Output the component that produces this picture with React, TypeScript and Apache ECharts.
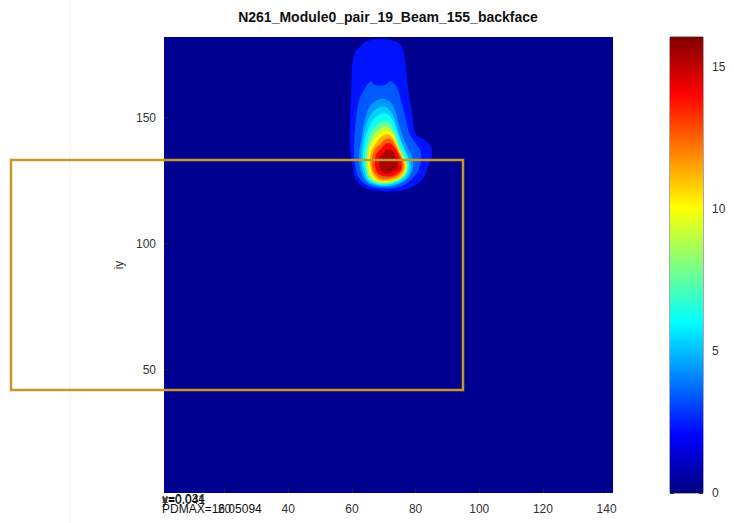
import { useEffect, useRef } from 'react';
import * as echarts from 'echarts';

// ---- chart content ----
const TITLE = 'N261_Module0_pair_19_Beam_155_backface';
const Y_NAME = 'iy';
const X_RANGE = [1, 142];
const Y_RANGE = [1, 182];
const X_STEP = 20;
const Y_STEP = 50;
const PDMAX = 16.05094;
const COLORBAR_STEP = 5;
const NOTE_X = 'x=0.034';
const NOTE_Y = 'y=0.041';
const NOTE_MAX = 'PDMAX=16.05094';

// filled contour bands, outermost first: level of each band
const BAND_LEVELS = [2.3, 3.4, 4.4, 5.3, 6.2, 7.6, 9.0, 10.1, 11.3, 12.6, 14.0, 15.4];

// outline of each band in (ix, iy) coordinates
const BAND_OUTLINES: number[][][] = [
  [[62.6, 178.2], [64.5, 180.2], [67.0, 181.0], [70.1, 181.0], [72.6, 180.6], [74.8, 179.4], [76.0, 177.0], [76.7, 173.0], [77.3, 165.1], [78.2, 157.1], [79.2, 149.2], [80.1, 143.3], [82.6, 141.3], [84.8, 138.5], [85.1, 134.5], [83.9, 130.6], [82.6, 126.2], [79.8, 123.0], [75.1, 121.0], [68.8, 121.0], [64.1, 122.2], [61.3, 125.4], [60.1, 131.3], [59.4, 139.3], [59.4, 149.2], [59.8, 161.1], [60.1, 171.0], [61.0, 175.8]],
  [[63.8, 161.1], [65.1, 163.5], [66.0, 164.3], [67.0, 163.1], [68.8, 162.7], [70.7, 163.1], [72.0, 164.3], [73.2, 163.5], [74.5, 161.1], [75.7, 155.2], [77.0, 149.2], [78.2, 143.3], [80.1, 139.7], [81.7, 136.1], [81.4, 130.9], [79.5, 126.6], [76.0, 123.0], [70.4, 121.8], [65.1, 123.0], [62.2, 126.2], [61.0, 131.3], [60.7, 139.3], [61.3, 149.2], [62.3, 157.1]],
  [[65.7, 154.8], [67.6, 156.7], [69.8, 157.5], [72.0, 156.3], [73.5, 153.2], [74.8, 147.2], [76.4, 141.3], [77.9, 137.3], [79.2, 133.3], [78.9, 128.6], [76.7, 125.0], [73.5, 123.0], [68.8, 122.6], [64.8, 124.2], [62.9, 128.2], [62.2, 134.1], [62.9, 141.3], [64.1, 149.2]],
  [[66.0, 151.2], [67.9, 153.6], [70.1, 154.4], [72.0, 152.8], [73.5, 149.2], [74.8, 143.3], [76.4, 138.1], [78.2, 133.3], [78.5, 129.4], [76.7, 125.4], [73.2, 123.4], [68.8, 123.0], [65.1, 124.6], [63.5, 128.6], [62.9, 134.1], [63.5, 141.3], [64.5, 147.2]],
  [[66.3, 148.4], [68.2, 150.8], [70.4, 151.6], [72.3, 150.0], [73.8, 146.0], [75.1, 141.3], [76.7, 136.5], [77.9, 132.5], [77.6, 128.6], [75.7, 125.4], [72.6, 123.8], [68.8, 123.4], [65.4, 125.0], [64.1, 128.6], [63.5, 134.1], [64.1, 140.5], [65.1, 145.2]],
  [[67.0, 146.0], [68.8, 148.0], [70.7, 148.8], [72.3, 147.2], [73.8, 143.3], [75.1, 138.5], [76.7, 134.5], [77.6, 131.3], [77.0, 127.8], [75.1, 125.4], [72.0, 123.8], [68.5, 123.8], [65.7, 125.4], [64.5, 128.9], [64.1, 134.1], [64.8, 139.3], [65.7, 143.3]],
  [[67.3, 144.0], [69.2, 146.0], [71.0, 146.4], [72.6, 144.8], [73.8, 141.3], [75.1, 136.9], [76.4, 133.3], [77.3, 130.6], [76.4, 127.4], [74.5, 125.4], [71.6, 124.2], [68.5, 124.2], [66.0, 125.8], [64.8, 129.4], [64.8, 134.5], [65.4, 138.9], [66.3, 141.7]],
  [[67.9, 142.5], [69.5, 144.4], [71.3, 144.8], [72.9, 143.3], [74.1, 139.7], [75.4, 135.7], [76.7, 132.5], [77.0, 129.8], [76.0, 127.0], [74.1, 125.4], [71.6, 124.6], [68.5, 124.6], [66.3, 126.2], [65.4, 129.4], [65.1, 134.1], [65.7, 138.1], [66.6, 140.5]],
  [[68.2, 140.9], [69.8, 142.9], [71.6, 143.3], [73.2, 141.3], [74.5, 137.7], [75.7, 134.5], [76.7, 131.3], [76.4, 128.6], [74.8, 126.2], [72.0, 125.0], [68.8, 125.0], [66.9, 126.6], [66.0, 129.4], [65.7, 133.7], [66.3, 137.3], [67.3, 139.3]],
  [[68.8, 139.3], [70.4, 141.3], [72.0, 141.7], [73.5, 139.3], [74.8, 136.1], [76.0, 132.9], [76.0, 129.4], [74.5, 127.0], [72.0, 125.8], [69.2, 125.8], [67.3, 127.4], [66.3, 130.2], [66.3, 133.7], [67.0, 136.9], [67.9, 138.5]],
  [[69.2, 137.7], [70.7, 139.7], [72.3, 139.7], [73.8, 137.3], [75.1, 134.1], [75.7, 131.0], [75.1, 128.6], [73.2, 127.0], [70.4, 126.6], [68.2, 127.8], [67.3, 130.6], [67.3, 133.7], [67.9, 136.1]],
  [[69.8, 135.7], [71.0, 137.3], [72.6, 136.9], [73.8, 134.5], [74.5, 131.7], [74.1, 129.4], [72.6, 128.2], [70.4, 127.8], [68.8, 129.4], [68.5, 132.1], [68.8, 134.5]],
];

// jet colour map, evenly spaced anchors from 0 to 1
const JET = ['#000080', '#0000ff', '#0080ff', '#00ffff', '#80ff80', '#ffff00', '#ff8000', '#ff0000', '#800000'];

const FONT = '"Liberation Sans", Arial, Helvetica, sans-serif';
const TEXT = '#333333';

const PLOT = { left: 164, top: 37, width: 449, height: 456 };
const BAR = { left: 670, top: 37, width: 33, height: 456 };

function buildOption(): echarts.EChartsOption {
  const bandData = BAND_LEVELS.map((lv, i) => [i, lv]);
  return {
    animation: false,
    backgroundColor: '#ffffff',
    textStyle: { fontFamily: FONT },
    grid: [
      { ...PLOT, show: true, backgroundColor: '#000090', borderWidth: 0, containLabel: false },
      { ...BAR, show: true, borderColor: '#555555', borderWidth: 1, containLabel: false },
    ],
    visualMap: {
      type: 'continuous',
      show: false,
      seriesIndex: 0,
      dimension: 1,
      min: 0,
      max: PDMAX,
      inRange: { color: JET },
    },
    xAxis: [
      {
        type: 'value',
        gridIndex: 0,
        min: X_RANGE[0],
        max: X_RANGE[1],
        minInterval: X_STEP,
        maxInterval: X_STEP,
        axisLine: { show: false },
        axisTick: { show: true, inside: true, length: 4, lineStyle: { color: '#222' } },
        splitLine: { show: false },
        axisLabel: {
          color: TEXT,
          fontSize: 12,
          fontFamily: FONT,
          margin: 10,
          showMinLabel: false,
          showMaxLabel: false,
          formatter: (v: number) => (v % X_STEP === 0 ? String(v) : ''),
        },
      },
      { type: 'category', gridIndex: 1, data: ['c'], show: false },
    ],
    yAxis: [
      {
        type: 'value',
        gridIndex: 0,
        min: Y_RANGE[0],
        max: Y_RANGE[1],
        minInterval: Y_STEP,
        maxInterval: Y_STEP,
        name: Y_NAME,
        nameLocation: 'middle',
        nameRotate: 90,
        nameGap: 38,
        nameTextStyle: { color: TEXT, fontSize: 12, fontFamily: FONT },
        axisLine: { show: false },
        axisTick: { show: true, inside: true, length: 4, lineStyle: { color: '#222' } },
        splitLine: { show: false },
        axisLabel: {
          color: TEXT,
          fontSize: 12,
          fontFamily: FONT,
          margin: 8,
          showMinLabel: false,
          showMaxLabel: false,
          formatter: (v: number) => (v % Y_STEP === 0 ? String(v) : ''),
        },
      },
      {
        type: 'value',
        gridIndex: 1,
        position: 'right',
        min: 0,
        max: PDMAX,
        interval: COLORBAR_STEP,
        axisLine: { show: false },
        axisTick: { show: true, inside: true, length: 4, lineStyle: { color: '#333' } },
        splitLine: { show: false },
        axisLabel: { color: TEXT, fontSize: 12, fontFamily: FONT, margin: 9, showMaxLabel: false,
          formatter: (v: number) => (v % COLORBAR_STEP === 0 ? String(v) : '') },
      },
      {
        type: 'value',
        gridIndex: 1,
        position: 'left',
        min: 0,
        max: PDMAX,
        interval: COLORBAR_STEP,
        axisLine: { show: false },
        axisTick: { show: true, inside: true, length: 4, lineStyle: { color: '#333' } },
        splitLine: { show: false },
        axisLabel: { show: false },
      },
    ],
    series: [
      {
        type: 'custom',
        xAxisIndex: 0,
        yAxisIndex: 0,
        clip: true,
        data: bandData,
        encode: { x: -1, y: -1 } as any,
        renderItem: (_params: any, api: any) => {
          const idx = api.value(0) as number;
          const pts = BAND_OUTLINES[idx].map((p) => api.coord(p));
          return {
            type: 'polygon',
            shape: { points: pts, smooth: 0.35 },
            style: { fill: api.visual('color'), stroke: 'none' },
          };
        },
      },
      {
        type: 'bar',
        xAxisIndex: 1,
        yAxisIndex: 1,
        data: [PDMAX],
        barWidth: '100%',
        itemStyle: {
          color: new echarts.graphic.LinearGradient(
            0, 1, 0, 0,
            JET.map((c, i) => ({ offset: i / (JET.length - 1), color: c }))
          ),
        },
        silent: true,
      },
    ],
    graphic: [
      {
        type: 'line',
        shape: { x1: 70, y1: 0, x2: 70, y2: 523 },
        style: { stroke: '#f3f3f3', lineWidth: 1 },
        z: -1,
        silent: true,
      },
      {
        type: 'text',
        x: 388,
        y: 17,
        style: {
          text: TITLE,
          fontSize: 14,
          fontWeight: 'bold',
          fontFamily: FONT,
          fill: '#111111',
          align: 'center',
          verticalAlign: 'middle',
        },
      },
      {
        type: 'rect',
        shape: { x: 11, y: 160, width: 452, height: 230 },
        style: { fill: 'none', stroke: '#c8962a', lineWidth: 2.5 },
        z: 100,
      },
      {
        type: 'text',
        x: 162,
        y: 499,
        style: { text: NOTE_X, fontSize: 12, fontFamily: FONT, fill: '#111', verticalAlign: 'middle' },
        z: 100,
      },
      {
        type: 'text',
        x: 162,
        y: 500,
        style: { text: NOTE_Y, fontSize: 12, fontFamily: FONT, fill: '#111', verticalAlign: 'middle' },
        z: 100,
      },
      {
        type: 'text',
        x: 162,
        y: 509,
        style: { text: NOTE_MAX, fontSize: 12, fontFamily: FONT, fill: '#111', verticalAlign: 'middle' },
        z: 100,
      },
    ],
  };
}

export default function App() {
  const ref = useRef<HTMLDivElement>(null);
  useEffect(() => {
    if (!ref.current) return;
    const chart = echarts.init(ref.current, null, { renderer: 'svg' });
    chart.setOption(buildOption());
    return () => chart.dispose();
  }, []);
  return (
    <div
      ref={ref}
      style={{ position: 'fixed', left: 0, top: 0, width: 734, height: 523, background: '#ffffff' }}
    />
  );
}
